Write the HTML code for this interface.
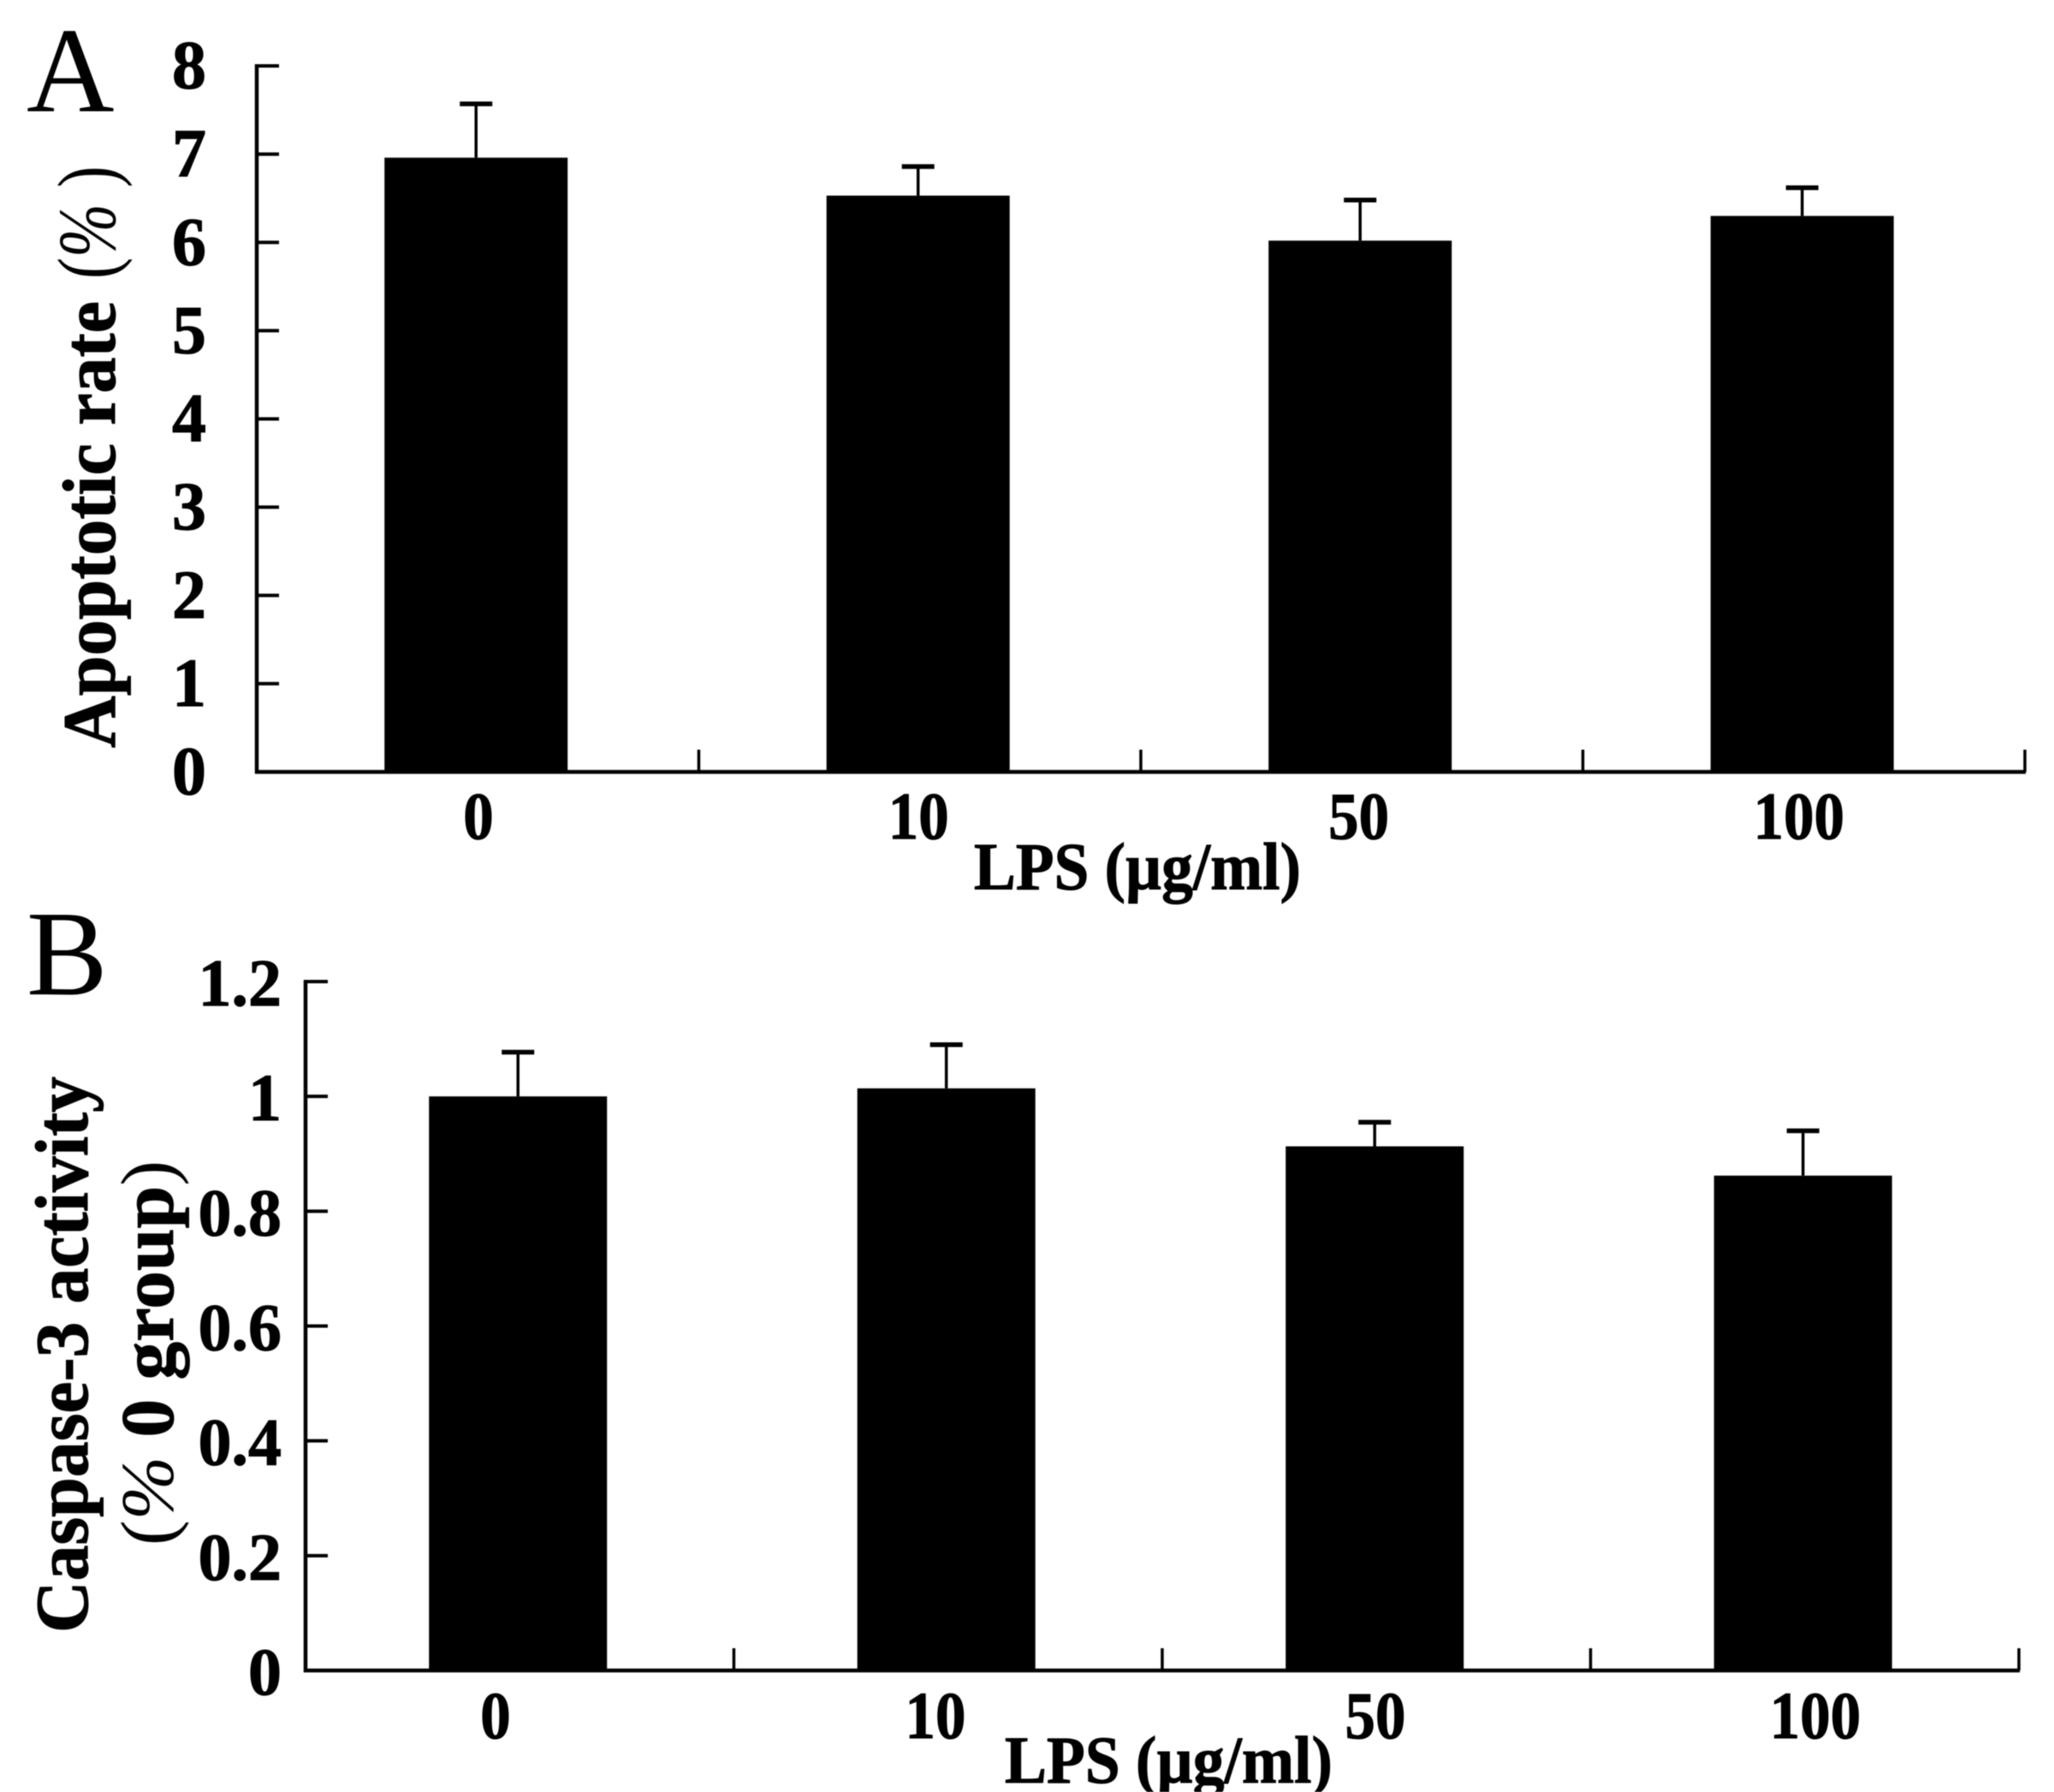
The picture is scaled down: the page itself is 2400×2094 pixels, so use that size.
<!DOCTYPE html>
<html lang="en">
<head>
<meta charset="utf-8">
<title>Apoptotic rate and caspase-3 activity vs LPS dose</title>
<style>
html,body{margin:0;padding:0;background:#fff;}
svg{display:block;filter:blur(0.6px);}
text{font-family:"Liberation Serif",serif;fill:#000;}
.b{font-weight:bold;stroke:#000;stroke-width:1px;}
.n{font-weight:normal;stroke:none;}
</style>
</head>
<body>
<svg id="figure" xmlns="http://www.w3.org/2000/svg" width="2400" height="2094" viewBox="0 0 2400 2094">
  <rect x="0" y="0" width="2400" height="2094" fill="#fff"/>
  <text x="31" y="130" font-size="142">A</text>
  <text x="31" y="1162" font-size="142">B</text>
  <text class="b" font-size="88" transform="translate(134,874) rotate(-90)" textLength="522" lengthAdjust="spacingAndGlyphs">Apoptotic rate</text>
  <text font-size="96" transform="translate(134,326) rotate(-90)" textLength="132" lengthAdjust="spacingAndGlyphs">(<tspan font-style="italic">%</tspan> )</text>
  <text class="b" font-size="78" x="1138" y="1039" textLength="382" lengthAdjust="spacingAndGlyphs">LPS (µg/ml)</text>
  <text class="b" font-size="88" transform="translate(102,1908) rotate(-90)" textLength="650" lengthAdjust="spacingAndGlyphs">Caspase-3 activity</text>
  <text class="b" font-size="88" transform="translate(202,1806) rotate(-90)" textLength="450" lengthAdjust="spacingAndGlyphs"><tspan class="n">(</tspan><tspan class="n" font-style="italic">%</tspan> 0 group<tspan class="n">)</tspan></text>
  <text class="b" font-size="78" x="1174" y="2083" textLength="383" lengthAdjust="spacingAndGlyphs">LPS (µg/ml)</text>
</svg>
<script>
const lpsDoses = ['0', '10', '50', '100'];
const apoptoticMeans = [6.96, 6.53, 6.02, 6.3];
const apoptoticUpper = [7.57, 6.86, 6.48, 6.62];
const apoptoticTicks = [0, 1, 2, 3, 4, 5, 6, 7, 8];
const caspaseMeans = [1.0, 1.014, 0.913, 0.862];
const caspaseUpper = [1.077, 1.09, 0.955, 0.94];
const caspaseTicks = [0, 0.2, 0.4, 0.6, 0.8, 1, 1.2];

const NS = 'http://www.w3.org/2000/svg';
const svg = document.getElementById('figure');

function make(tag, attrs) {
  const el = document.createElementNS(NS, tag);
  for (const k in attrs) el.setAttribute(k, attrs[k]);
  svg.appendChild(el);
  return el;
}

function drawPanel(p, cats, means, upper, ticks) {
  const yScale = v => p.y0 + (p.yTop - p.y0) * v / p.yMax;
  const boundaryX = i => p.x0 + (p.x1 - p.x0) * i / cats.length;
  const barX = i => (boundaryX(i) + boundaryX(i + 1)) / 2 + p.barShift;
  const labelX = i => p.labelStart + p.labelStep * i;

  cats.forEach((cat, i) => {
    const cx = barX(i);
    const bar = make('rect', {x: cx - p.barW / 2, y: yScale(means[i]), width: p.barW, height: p.y0 - yScale(means[i]), fill: '#000'});
    
    

    const stem = make('line', {x1: cx, x2: cx, y1: yScale(means[i]), y2: yScale(upper[i]), stroke: '#000', 'stroke-width': 3.5});
    
    

    const cap = make('line', {x1: cx - 19, x2: cx + 19, y1: yScale(upper[i]), y2: yScale(upper[i]), stroke: '#000', 'stroke-width': 5.5});
    
    

    const lab = make('text', {x: labelX(i), y: p.xLabelY, 'text-anchor': 'middle', 'font-size': p.xFont, 'class': 'b', textLength: cat.length * p.digitW, lengthAdjust: 'spacingAndGlyphs'});
    lab.textContent = cat;
    
    
  });

  const yAxis = make('line', {x1: p.x0, x2: p.x0, y1: yScale(p.yMax) - 2, y2: p.y0 + 2, stroke: '#000', 'stroke-width': 4.5});
  
  

  const xAxis = make('line', {x1: p.x0 - 2, x2: p.x1 + 1, y1: p.y0, y2: p.y0, stroke: '#000', 'stroke-width': 4.5});
  
  

  ticks.forEach(v => {
    const t = make('line', {x1: p.x0, x2: p.x0 + 26, y1: yScale(v), y2: yScale(v), stroke: '#000', 'stroke-width': 4});
    
    

    const lab = make('text', {x: p.yLabelX, y: yScale(v) + p.yLabelDy, 'text-anchor': 'end', 'font-size': p.yFont, 'class': 'b'});
    lab.textContent = String(v);
    
    
  });

  cats.forEach((cat, i) => {
    const x = boundaryX(i + 1);
    const t = make('line', {x1: x, x2: x, y1: p.y0, y2: p.y0 - 26, stroke: '#000', 'stroke-width': 3.5});
    
    
  });
}

drawPanel({id: 'panel-a', x0: 300, x1: 2366, y0: 902, yTop: 77, yMax: 8, barW: 214, barShift: -2,
  labelStart: 559, labelStep: 514.3, xLabelY: 980, xFont: 78, digitW: 35.5, yLabelX: 241, yLabelDy: 26, yFont: 80},
  lpsDoses, apoptoticMeans, apoptoticUpper, apoptoticTicks);

drawPanel({id: 'panel-b', x0: 357, x1: 2359, y0: 1952, yTop: 1147, yMax: 1.2, barW: 208, barShift: -2,
  labelStart: 579, labelStep: 514, xLabelY: 2031, xFont: 78, digitW: 35.5, yLabelX: 329, yLabelDy: 28, yFont: 78},
  lpsDoses, caspaseMeans, caspaseUpper, caspaseTicks);
</script>
</body>
</html>
